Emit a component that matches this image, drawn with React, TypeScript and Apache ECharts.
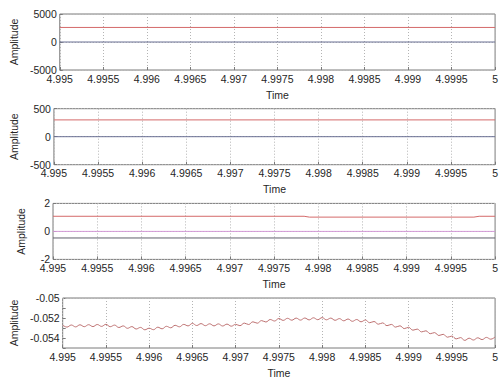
import React, { useEffect, useRef } from "react";
import * as echarts from "echarts";

// ---- data ----
const xMin = 4.995;
const xMax = 5;

// panel 1
const p1Red: [number, number][] = [[4.995, 2600], [5, 2600]];
const p1Blue: [number, number][] = [[4.995, 0], [5, 0]];
// panel 2
const p2Red: [number, number][] = [[4.995, 300], [5, 300]];
const p2Blue: [number, number][] = [[4.995, 0], [5, 0]];
// panel 3
const p3Red: [number, number][] = [
  [4.995, 1.08], [4.99784, 1.08], [4.9979, 1.02], [4.99976, 1.02], [4.99982, 1.08], [5, 1.08],
];
const p3Mag: [number, number][] = [[4.995, 0], [5, 0]];
const p3Dark: [number, number][] = [[4.995, -0.47], [5, -0.47]];
// panel 4 (sampled every 0.00005 s from 4.995)
const waveT0 = 4.995;
const waveDt = 0.00005;
const waveValues = [
  -0.05272, -0.05291, -0.0527, -0.05289, -0.05268, -0.05287, -0.05267, -0.05286, -0.05265, -0.05284,
  -0.05263, -0.05287, -0.05271, -0.05295, -0.05279, -0.05303, -0.05286, -0.0531, -0.05294, -0.05318,
  -0.05302, -0.05317, -0.05292, -0.05308, -0.05283, -0.05298, -0.05273, -0.05288, -0.05264, -0.05279,
  -0.05254, -0.05275, -0.05256, -0.05277, -0.05258, -0.05279, -0.05259, -0.0528, -0.05261, -0.05282,
  -0.05263, -0.05277, -0.05251, -0.05265, -0.05238, -0.05252, -0.05226, -0.0524, -0.05215, -0.0523,
  -0.05205, -0.05224, -0.05203, -0.05222, -0.05201, -0.05221, -0.052, -0.05219, -0.05198, -0.05217,
  -0.05196, -0.05218, -0.05201, -0.05223, -0.05206, -0.05228, -0.0521, -0.05233, -0.05215, -0.05238,
  -0.0522, -0.05247, -0.05235, -0.05262, -0.05249, -0.05277, -0.05264, -0.05291, -0.05278, -0.05306,
  -0.05293, -0.05322, -0.05311, -0.05339, -0.05328, -0.05357, -0.05346, -0.05375, -0.05363, -0.05392,
  -0.05381, -0.05409, -0.05396, -0.05424, -0.05402, -0.0542, -0.05398, -0.05416, -0.05394, -0.05412,
  -0.0539,
];
const p4GridValues = [-0.052, -0.054];

const yRanges = [
  { min: -5000, max: 5000, interval: 5000 },
  { min: -500, max: 500, interval: 500 },
  { min: -2, max: 2, interval: 2 },
  { min: -0.055, max: -0.05, interval: 0.001 },
];

const FONT = "Liberation Sans, Arial, sans-serif";
const RED = "#d46a6a";
const BLUE = "#6a7094";
const MAG = "#d39ad6";
const DARK = "#60606c";
const WAVE = "#bd7070";
const GRIDC = "#b4b4b4";
const BORDER = "#7a7a7a";
const TEXT = "#262626";

export default function App() {
  const ref = useRef<HTMLDivElement>(null);
  useEffect(() => {
    if (!ref.current) return;
    const chart = echarts.init(ref.current, undefined, { renderer: "svg" });
    const tops = [14, 108.7, 203.4, 298];
    const gridH = 56;
    const grids = tops.map((t) => ({
      left: 53,
      width: 446,
      top: t,
      height: gridH,
      show: true,
      borderColor: BORDER,
      borderWidth: 1,
      backgroundColor: "#fff",
    }));
    const xAxes = tops.map((_, i) => ({
      type: "value",
      gridIndex: i,
      position: "bottom",
      min: xMin,
      max: xMax,
      interval: 0.0005,
      name: "Time",
      nameLocation: "middle",
      nameGap: 19,
      nameTextStyle: { fontFamily: FONT, fontSize: 10.5, color: TEXT },
      axisLine: { show: false, onZero: false },
      axisTick: { show: true, inside: true, length: 3, lineStyle: { color: BORDER } },
      axisLabel: {
        fontFamily: FONT,
        fontSize: 10.5,
        color: TEXT,
        margin: 3,
        showMinLabel: true,
        showMaxLabel: true,
        formatter: (v: number) => String(Math.round(v * 10000) / 10000),
      },
      splitLine: { show: true, lineStyle: { type: [1, 2], color: GRIDC, width: 1 } },
    }));
    const yAxes = yRanges.map((r, i) => ({
      type: "value",
      gridIndex: i,
      position: "left",
      min: r.min,
      max: r.max,
      interval: r.interval,
      name: "Amplitude",
      nameLocation: "middle",
      nameRotate: 90,
      nameGap: i === 2 ? 27 : 33,
      nameTextStyle: { fontFamily: FONT, fontSize: 10.5, color: TEXT },
      axisLine: { show: false, onZero: false },
      axisTick: {
        show: true,
        inside: true,
        length: 3,
        lineStyle: { color: BORDER },
      },
      axisLabel: {
        fontFamily: FONT,
        fontSize: 10.5,
        color: TEXT,
        margin: 3,
        showMinLabel: true,
        showMaxLabel: true,
        formatter:
          i === 3
            ? (v: number) => {
                const k = Math.round(v * 1000);
                return k % 2 === 0 ? String(k / 1000) : "";
              }
            : (v: number) => String(v),
      },
      splitLine: {
        show: i !== 3,
        lineStyle: { type: [1, 2], color: GRIDC, width: 1 },
      },
    }));
    const line = (data: [number, number][], idx: number, color: string, extra: any = {}) => ({
      type: "line",
      xAxisIndex: idx,
      yAxisIndex: idx,
      data,
      showSymbol: false,
      symbol: "none",
      lineStyle: { color, width: 1 },
      z: 3,
      ...extra,
    });
    const waveData: [number, number][] = waveValues.map((v, k) => [waveT0 + k * waveDt, v]);
    chart.setOption({
      animation: false,
      backgroundColor: "#fff",
      grid: grids,
      xAxis: xAxes,
      yAxis: yAxes,
      series: [
        line(p1Blue, 0, BLUE),
        line(p1Red, 0, RED),
        line(p2Blue, 1, BLUE),
        line(p2Red, 1, RED),
        line(p3Dark, 2, DARK),
        line(p3Mag, 2, MAG),
        line(p3Red, 2, RED),
        line(waveData, 3, WAVE, {
          smooth: 0.4,
          markLine: {
            silent: true,
            symbol: "none",
            label: { show: false },
            lineStyle: { type: [1, 2], color: GRIDC, width: 1 },
            data: p4GridValues.map((v) => ({ yAxis: v })),
            z: 1,
          },
        }),
      ],
    });
    return () => chart.dispose();
  }, []);
  return (
    <div
      ref={ref}
      style={{ position: "fixed", left: 0, top: 0, width: 501, height: 379, background: "#fff" }}
    />
  );
}
